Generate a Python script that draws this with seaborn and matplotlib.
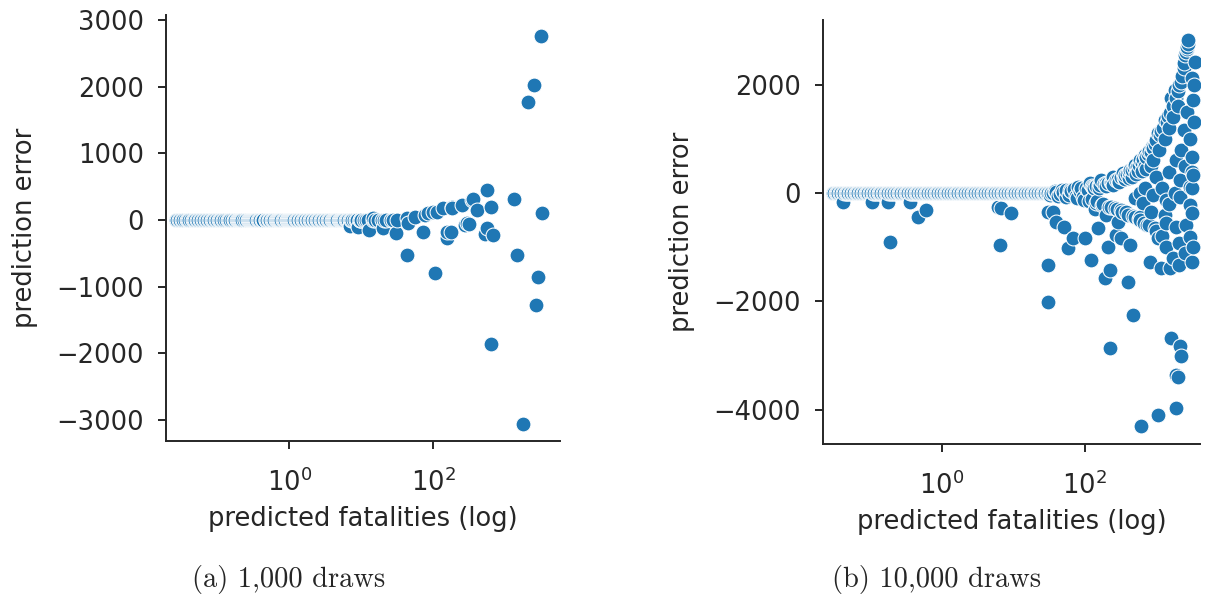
import matplotlib.pyplot as plt
import seaborn as sns
import pandas as pd
from matplotlib.ticker import NullLocator

# (a) 1,000 draws: points sitting on the zero line
a_band_pred = [0.027, 0.028, 0.03, 0.031, 0.033, 0.034, 0.036, 0.038, 0.04, 0.041,
               0.043, 0.046, 0.048, 0.05, 0.052, 0.055, 0.058, 0.06, 0.063, 0.066,
               0.07, 0.073, 0.076, 0.08, 0.084, 0.088, 0.092, 0.096, 0.1, 0.105,
               0.11, 0.115, 0.12, 0.126, 0.132, 0.14, 0.146, 0.153, 0.16,
               0.17, 0.175, 0.18, 0.19, 0.195, 0.2, 0.21, 0.217, 0.225, 0.24,
               0.248, 0.255, 0.27, 0.278, 0.285, 0.3, 0.308, 0.315, 0.33, 0.34,
               0.35, 0.37, 0.38, 0.39, 0.42, 0.43, 0.44, 0.47, 0.48, 0.495, 0.52,
               0.535, 0.55, 0.58, 0.597, 0.615, 0.65, 0.67, 0.69, 0.73, 0.752,
               0.775, 0.82, 0.845, 0.87, 0.92, 0.94, 0.96, 1.0, 1.025, 1.05, 1.1,
               1.135, 1.17, 1.25, 1.285, 1.32, 1.4, 1.44, 1.48, 1.55, 1.6, 1.65,
               1.75, 1.8, 1.85, 1.95, 2.01, 2.07, 2.2, 2.26, 2.32, 2.45, 2.52, 2.6,
               2.75, 2.83, 2.92, 3.1, 3.2, 3.3, 3.5, 3.6, 3.7, 3.9, 4.02, 4.15,
               4.4, 4.52, 4.65, 4.9, 5.05, 5.2, 5.5, 5.67, 5.85, 6.2, 6.4, 6.6,
               7.0, 7.25, 7.5, 8.0, 8.35, 8.7, 9.5, 9.75, 10, 11, 11.8, 12.6,
               14.5, 15.7, 17, 19.5, 20.7, 22, 26, 28, 31]
# (a) the rest
a_pred = [7, 9, 13, 14.8, 20, 30, 43, 45, 56, 73, 78, 86, 100, 112, 139, 155, 155,
          174, 182, 182, 251, 277, 296, 318, 345, 352, 403, 560, 560, 530, 632, 680,
          43, 107, 1303, 1480, 2065, 2520, 3090, 3240, 2810, 2680, 632, 1790]
a_err = [-90, -110, -150, 25, -120, -190, 25, -40, 50, -175, 75, 100, 125, 125, 175,
         -175, -270, -175, 175, 200, 225, -75, -50, -60, 300, 310, 150, 450, -120,
         -210, 190, -220, -525, -790, 310, -525, 1775, 2025, 2760, 100, -850, -1275,
         -1860, -3060]

# (b) 10,000 draws: points sitting on the zero line
b_band_pred = [0.030, 0.0314, 0.0329, 0.0344, 0.036, 0.0377, 0.0395, 0.0414, 0.0433,
               0.0453, 0.0475, 0.0497, 0.052, 0.0545, 0.057, 0.0597, 0.0625, 0.0655,
               0.0685, 0.0718, 0.075, 0.0787, 0.0824, 0.0862, 0.0903, 0.0945, 0.099,
               0.104, 0.109, 0.114, 0.119, 0.125, 0.131, 0.137, 0.143, 0.15, 0.157,
               0.164, 0.172, 0.18, 0.189, 0.198, 0.207, 0.217, 0.227, 0.238, 0.249,
               0.26, 0.273, 0.285, 0.299, 0.313, 0.327, 0.343, 0.359, 0.376, 0.393,
               0.412, 0.431, 0.451, 0.473, 0.495, 0.518, 0.542, 0.568, 0.595, 0.622,
               0.652, 0.682, 0.714, 0.748, 0.783, 0.82, 0.858, 0.898, 0.94, 0.985,
               1.03, 1.08, 1.13, 1.18, 1.24, 1.3, 1.36, 1.42, 1.49, 1.56, 1.63, 1.71,
               1.79, 1.87, 1.96, 2.05, 2.15, 2.25, 2.35, 2.46, 2.58, 2.7, 2.83, 2.96,
               3.1, 3.25, 3.4, 3.56, 3.72, 3.9, 4.08, 4.27, 4.47, 4.68, 4.9, 5.13,
               5.37, 5.62, 5.89, 6.17, 6.46, 6.76, 7.08, 7.41, 7.76, 8.12, 8.5, 8.9,
               9.32, 9.76, 10.2, 10.7, 11.2, 11.7, 12.3, 12.9, 13.5, 14.1, 14.8, 15.5,
               16.2, 17, 17.8, 18.6, 19.5, 20.4, 21.4, 22.4, 23.4, 24.5, 25.7, 26.9,
               28.2, 29.5, 30.9, 32.4, 33.9, 35.5]
# (b) the rest
b_pred = [0.042, 0.107, 0.178, 0.355, 0.61, 0.47, 0.19, 6.2, 6.8, 9.4, 6.5,
          31, 36, 31, 31, 40, 52, 59, 69, 100, 124, 155, 213, 224, 190, 405, 427,
          475, 295, 590, 850, 815, 1070, 1180, 1550, 2040, 3100, 1380, 2040, 2950,
          1380, 1900, 2630, 3100, 1380, 2140, 2950, 890, 660, 277, 316, 200, 138,
          224, 1620, 2140, 2240, 1900, 2000, 1860, 1070, 615,
          55, 81, 117, 170, 245, 345, 427, 500, 590, 690, 800, 900, 1070, 1320,
          1620, 1800, 2240, 2400, 2550, 2650, 2700, 2790, 3450, 3100, 3260, 2400,
          1900, 3100, 1480, 3100, 2140, 3200, 3240, 2950,
          130, 145, 160, 185, 210, 230, 270, 290, 320, 370, 390, 420, 460, 480,
          530, 570, 620, 650, 720, 760, 840, 880, 950, 1000, 1120, 1180, 1250,
          1400, 1450, 1550, 1700, 1900, 2000, 2100, 2300, 2450, 2600, 2750,
          40, 45, 50, 60, 65, 75, 85, 95, 110, 125, 135, 150, 160, 180, 200, 230,
          250, 280, 300, 330, 360, 400, 450, 500, 550, 600, 700, 750, 900, 1000,
          1100, 1200, 1300, 1500, 1700, 2000, 1000, 1200, 1500, 1800, 2200, 2500,
          2700, 3000, 3300, 3350, 3400, 2500, 1700, 1300, 700, 500, 600,
          33, 38, 42, 48, 55, 62, 70, 78, 88, 98, 105, 115, 128, 142, 165, 175,
          195, 220, 240, 265, 290, 320, 350, 380, 420, 470, 520, 580, 640, 680,
          720, 800, 850, 950]
b_err = [-170, -170, -170, -170, -313, -437, -897, -250, -282, -375, -958,
         -345, -345, -1327, -2003, -529, -621, -1020, -835, -835, -1235, -651, -990,
         -1419, -1572, -1635, -958, -2248, -529, -437, -345, -1266, -835, -1388,
         -1388, -1327, -1266, -990, -928, -805, -560, -621, -590, -375, -129, -68,
         116, -37, -190, -774, -835, -405, -300,
         -2862, -2678, -2832, -3016, -3354, -3390, -3968, -4091, -4307,
         55, 116, 179, 240, 300, 363, 424, 516, 608, 700, 780, 820, 1100, 1345,
         1745, 1900, 2050, 2300, 2550, 2650, 2700, 2820, 2420, 2114, 1714, 1160,
         608, 669, 393, 393, 240, 87, 332, -221,
         110, 125, 140, 165, 185, 210, 240, 265, 290, 330, 355, 380, 420, 460,
         480, 520, 560, 620, 660, 720, 760, 840, 900, 980, 1060, 1140, 1200,
         1300, 1420, 1480, 1600, 1760, 1880, 2000, 2150, 2400, 2600, 2750,
         10, -20, 20, -30, 30, -50, 40, -80, 60, -120, 90, -150, 100, -200, 120,
         -250, 150, -300, 200, -350, 250, -400, 300, -450, 400, -500, 500, -600,
         600, -700, 800, -800, 1000, 1200, 1400, 1600, 300, 100, -200, 0, 800,
         500, 1500, 1000, -1000, 1300, 2000, -1100, -1200, -400, 100, -100, 0,
         -30, 40, -60, 50, -80, 60, 80, -100, 90, -130, 100, -150, 120, -180, 150,
         -220, 180, -260, 200, -280, 220, -320, 270, -360, 280, -420, 350, -480,
         400, -550, 450, -600, 500, -650]

captions = ["(a) 1,000 draws", "(b) 10,000 draws"]


def frame(band, pred, err):
    df = pd.concat([pd.DataFrame({"pred": band, "err": 0.0}),
                    pd.DataFrame({"pred": pred, "err": err})])
    return df.sort_values("pred")


sns.set_style("ticks")
plt.rcParams["font.family"] = ["DejaVu Sans"]

fig = plt.figure(figsize=(12.06, 5.99), dpi=100)
ax1 = fig.add_axes([0.1376, 0.2638, 0.3267, 0.7112])
ax2 = fig.add_axes([0.6824, 0.2588, 0.3126, 0.7078])

panels = [
    (ax1, frame(a_band_pred, a_pred, a_err), (0.0195, 5750), (-3315, 3075),
     [-3000, -2000, -1000, 0, 1000, 2000, 3000]),
    (ax2, frame(b_band_pred, b_pred, b_err), (0.0219, 4070), (-4630, 3190),
     [-4000, -2000, 0, 2000]),
]

for ax, df, xl, yl, yt in panels:
    sns.scatterplot(data=df, x="pred", y="err", ax=ax, color="#1f77b4",
                    s=115, edgecolor="white", linewidth=0.75)
    ax.set_xscale("log")
    ax.set_xlim(*xl)
    ax.set_ylim(*yl)
    ax.set_xticks([1, 100])
    ax.xaxis.set_minor_locator(NullLocator())
    ax.set_yticks(yt)
    ax.set_xlabel("predicted fatalities (log)", fontsize=18.5, labelpad=6)
    ax.set_ylabel("prediction error", fontsize=18.5, labelpad=13)
    ax.tick_params(labelsize=18.5, length=6, width=1.4)
    ax.tick_params(axis="x", pad=14)
    ax.tick_params(axis="y", pad=10)
    for sp in ax.spines.values():
        sp.set_linewidth(1.4)
    sns.despine(ax=ax)

fig.text(289 / 1206, 1 - 580 / 599, captions[0], ha="center", va="center",
         family="cmr10", fontsize=20.5)
fig.text(937 / 1206, 1 - 580 / 599, captions[1], ha="center", va="center",
         family="cmr10", fontsize=20.5)

fig.savefig("out.png", dpi=100)
